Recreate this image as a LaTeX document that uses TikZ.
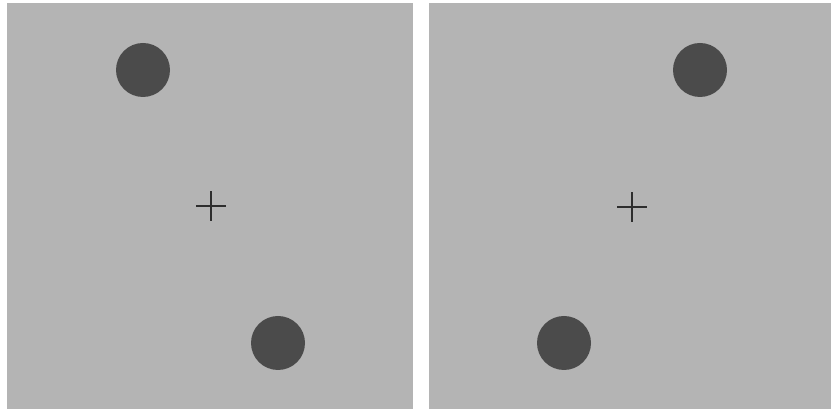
\documentclass[tikz,border=0pt]{standalone}
\definecolor{panelgray}{HTML}{B4B4B4}
\definecolor{dotgray}{HTML}{4B4B4B}
\definecolor{crossgray}{HTML}{2E2E2E}
\tikzset{
  panel/.style={fill=panelgray, draw=none},
  dot/.style={circle, fill=dotgray, draw=none, minimum size=54pt, inner sep=0pt},
  crossarm/.style={draw=crossgray, line width=2.6pt}
}
\begin{document}
\begin{tikzpicture}[x=1pt,y=-1pt]
\useasboundingbox[fill=white] (0,0) rectangle (831,411);
\fill[panel] (7,3) rectangle (413,409);
\fill[panel] (428.5,3) rectangle (831,409);
\node[dot] (d1) at (143,70) {};
\node[dot] (d2) at (278,343) {};
\node[dot] (d3) at (700,70) {};
\node[dot] (d4) at (564,343) {};
\coordinate (c1) at (211,206);
\coordinate (c2) at (632,207);
\draw[crossarm] ([xshift=-15pt]c1) -- ([xshift=15pt]c1);
\draw[crossarm] ([yshift=-15pt]c1) -- ([yshift=15pt]c1);
\draw[crossarm] ([xshift=-15pt]c2) -- ([xshift=15pt]c2);
\draw[crossarm] ([yshift=-15pt]c2) -- ([yshift=15pt]c2);
\end{tikzpicture}
\end{document}
